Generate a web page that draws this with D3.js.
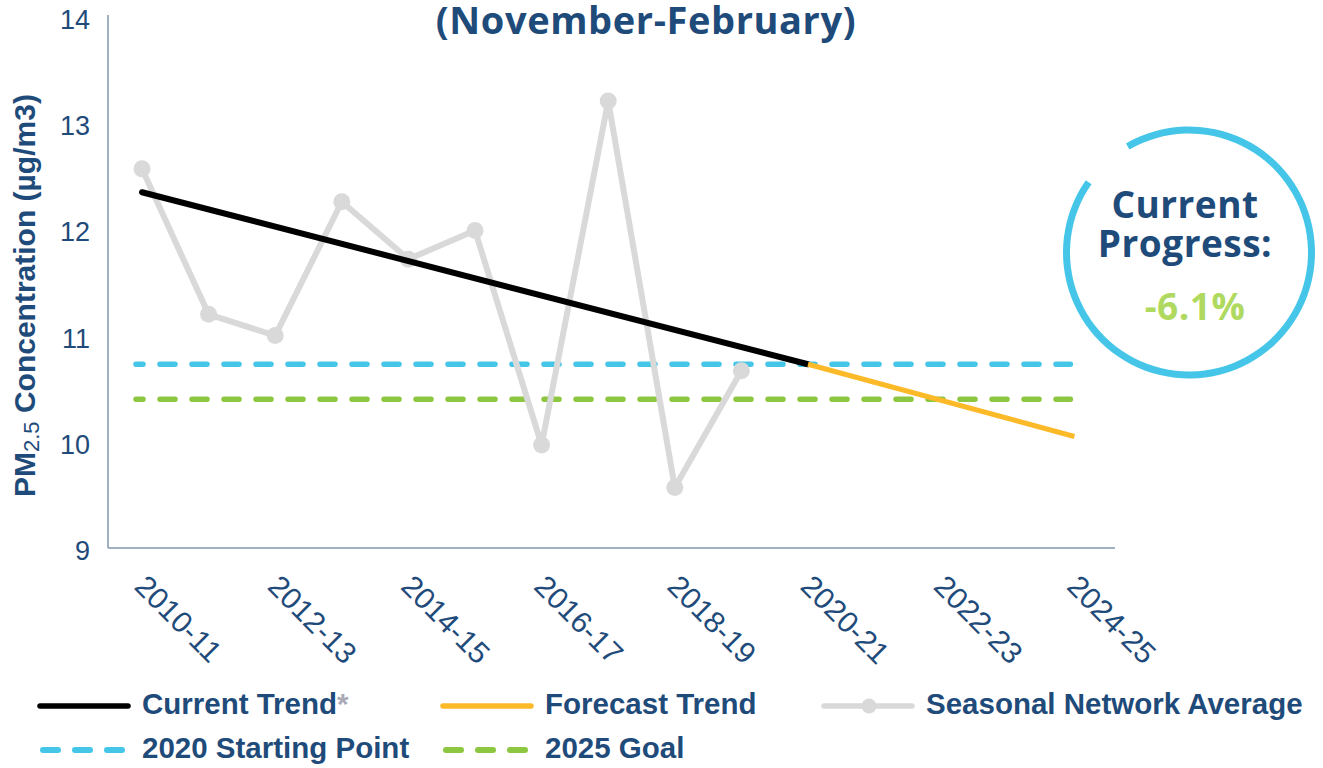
<!DOCTYPE html>
<html>
<head>
<meta charset="utf-8">
<script src="https://cdn.jsdelivr.net/npm/d3@7"></script>
<style>
  body { margin: 0; background: #fff; }
  svg { display: block; }
</style>
</head>
<body>
<div id="chart"></div>
<script>
const seasons = ["2010-11", "2011-12", "2012-13", "2013-14", "2014-15", "2015-16", "2016-17", "2017-18",
  "2018-19", "2019-20", "2020-21", "2021-22", "2022-23", "2023-24", "2024-25"];
const tickSeasons = ["2010-11", "2012-13", "2014-15", "2016-17", "2018-19", "2020-21", "2022-23", "2024-25"];
const yTicks = [9, 10, 11, 12, 13, 14];

const seasonalSeasons = ["2010-11", "2011-12", "2012-13", "2013-14", "2014-15", "2015-16", "2016-17", "2017-18", "2018-19", "2019-20"];
const seasonalValues = [12.57, 11.20, 11.00, 12.26, 11.72, 11.99, 9.97, 13.21, 9.57, 10.67];

const currentTrendSeasons = ["2010-11", "2020-21"];
const currentTrendValues = [12.35, 10.73];
const forecastSeasons = ["2020-21", "2024-25"];
const forecastValues = [10.73, 10.05];

const startingPoint2020 = 10.73;
const goal2025 = 10.40;
const progressText = "-6.1%";

const W = 1323, H = 768;
const navy = "#1f4b7a", blue = "#45c6e8", green = "#8dc641", orange = "#fcb928", grey = "#d9d9d9";

const svg = d3.select("#chart").append("svg").attr("width", W).attr("height", H);

const x = d3.scalePoint().domain(seasons).range([142, 1074.4]);
const y = d3.scaleLinear().domain([9, 14]).range([548, 17]);

// axes lines
svg.append("line").attr("x1", 108).attr("x2", 108).attr("y1", 15).attr("y2", y(9))
  .attr("stroke", "#8097ae").attr("stroke-width", 1.5);
svg.append("line").attr("x1", 108).attr("x2", 1115).attr("y1", y(9)).attr("y2", y(9))
  .attr("stroke", "#8097ae").attr("stroke-width", 1.5);

// y tick labels
svg.selectAll(".ytick").data(yTicks).enter().append("text")
  .attr("class", "ytick")
  .attr("x", 90).attr("y", d => y(d) + 12)
  .attr("text-anchor", "end")
  .style("font-family", "Liberation Sans, Arial, sans-serif")
  .style("font-size", "27px").style("fill", navy)
  .text(d => d);

// x tick labels
svg.selectAll(".xtick").data(tickSeasons).enter().append("text")
  .attr("class", "xtick")
  .attr("transform", d => `translate(${x(d) - 9},${588}) rotate(45)`)
  .style("font-family", "Liberation Sans, Arial, sans-serif")
  .style("font-size", "30px").style("fill", navy)
  .text(d => d);

// y axis title
const yt = svg.append("text")
  .attr("transform", `translate(35,${497}) rotate(-90)`)
  .style("font-family", "Liberation Sans, Arial, sans-serif")
  .style("font-weight", "bold").style("font-size", "30px").style("fill", navy);
yt.append("tspan").text("PM");
yt.append("tspan").attr("dy", 4).style("font-size", "22px").style("font-weight", "normal").text("2.5");
yt.append("tspan").attr("dy", -4).text(" Concentration (µg/m3)");

// title
svg.append("text").attr("x", 646).attr("y", 34).attr("text-anchor", "middle")
  .style("font-family", "Open Sans, sans-serif").style("font-weight", "bold")
  .style("font-size", "38px").style("letter-spacing", "0.6px").style("fill", navy)
  .text("(November-February)");

// reference dashed lines
const refLines = [
  { value: startingPoint2020, color: blue },
  { value: goal2025, color: green }
];
svg.selectAll(".ref").data(refLines).enter().append("line")
  .attr("class", "ref")
  .attr("x1", x(seasons[0]) - 6).attr("x2", x(seasons[seasons.length - 1]) - 4)
  .attr("y1", d => y(d.value)).attr("y2", d => y(d.value))
  .attr("stroke", d => d.color).attr("stroke-width", 5.5)
  .attr("stroke-linecap", "round")
  .attr("stroke-dasharray", "15 17").attr("stroke-dashoffset", 8);

const line = d3.line().x(d => x(d[0])).y(d => y(d[1]));

// seasonal network average
const seasonal = seasonalSeasons.map((s, i) => [s, seasonalValues[i]]);
svg.append("path").datum(seasonal).attr("d", line)
  .attr("fill", "none").attr("stroke", grey).attr("stroke-width", 6).attr("stroke-linejoin", "round");
svg.selectAll(".pt").data(seasonal).enter().append("circle")
  .attr("class", "pt")
  .attr("cx", d => x(d[0])).attr("cy", d => y(d[1])).attr("r", 8.5).attr("fill", grey);

// current trend
svg.append("path").datum(currentTrendSeasons.map((s, i) => [s, currentTrendValues[i]])).attr("d", line)
  .attr("fill", "none").attr("stroke", "#000").attr("stroke-width", 6).attr("stroke-linecap", "round");

// forecast trend
svg.append("path").datum(forecastSeasons.map((s, i) => [s, forecastValues[i]])).attr("d", line)
  .attr("fill", "none").attr("stroke", orange).attr("stroke-width", 5);

// progress circle
const cx = 1189, cy = 252.5;
const arc = d3.arc().innerRadius(119).outerRadius(126)
  .startAngle(-30 * Math.PI / 180).endAngle(305 * Math.PI / 180);
svg.append("path").attr("d", arc()).attr("transform", `translate(${cx},${cy})`).attr("fill", blue);

const circleText = [
  { text: "Current", x: 1185, y: 218, color: navy },
  { text: "Progress:", x: 1185, y: 257, color: navy },
  { text: progressText, x: 1195, y: 320, color: "#b0d95f" }
];
svg.selectAll(".ct").data(circleText).enter().append("text")
  .attr("class", "ct")
  .attr("x", d => d.x).attr("y", d => d.y).attr("text-anchor", "middle")
  .style("font-family", "Open Sans, sans-serif").style("font-weight", "bold")
  .style("font-size", "37px").style("letter-spacing", "0.5px").style("fill", d => d.color)
  .text(d => d.text);

// legend
const legendItems = [
  { label: "Current Trend", star: true, color: "#000", dash: null, dot: false, x: 40, y: 706 },
  { label: "Forecast Trend", color: orange, dash: null, dot: false, x: 443, y: 706 },
  { label: "Seasonal Network Average", color: grey, dash: null, dot: true, x: 824, y: 706 },
  { label: "2020 Starting Point", color: blue, dash: "15 17", dot: false, x: 40, y: 750 },
  { label: "2025 Goal", color: green, dash: "15 17", dot: false, x: 443, y: 750 }
];
const lg = svg.selectAll(".lg").data(legendItems).enter().append("g")
  .attr("class", "lg").attr("transform", d => `translate(${d.x},${d.y})`);
lg.append("line").attr("x1", d => d.dash ? 3 : 0).attr("x2", 88).attr("y1", 0).attr("y2", 0)
  .attr("stroke", d => d.color).attr("stroke-width", d => d.dash ? 6 : 5.5)
  .attr("stroke-linecap", "round")
  .attr("stroke-dasharray", d => d.dash);
lg.filter(d => d.dot).append("circle").attr("cx", 45).attr("cy", 0).attr("r", 7.5).attr("fill", grey);
const lt = lg.append("text").attr("x", 102).attr("y", 8)
  .style("font-family", "Liberation Sans, Arial, sans-serif").style("font-weight", "bold")
  .style("font-size", "29.5px").style("fill", navy);
lt.append("tspan").text(d => d.label);
lt.filter(d => d.star).append("tspan").style("fill", "#a9a9b8").text("*");
</script>
</body>
</html>
